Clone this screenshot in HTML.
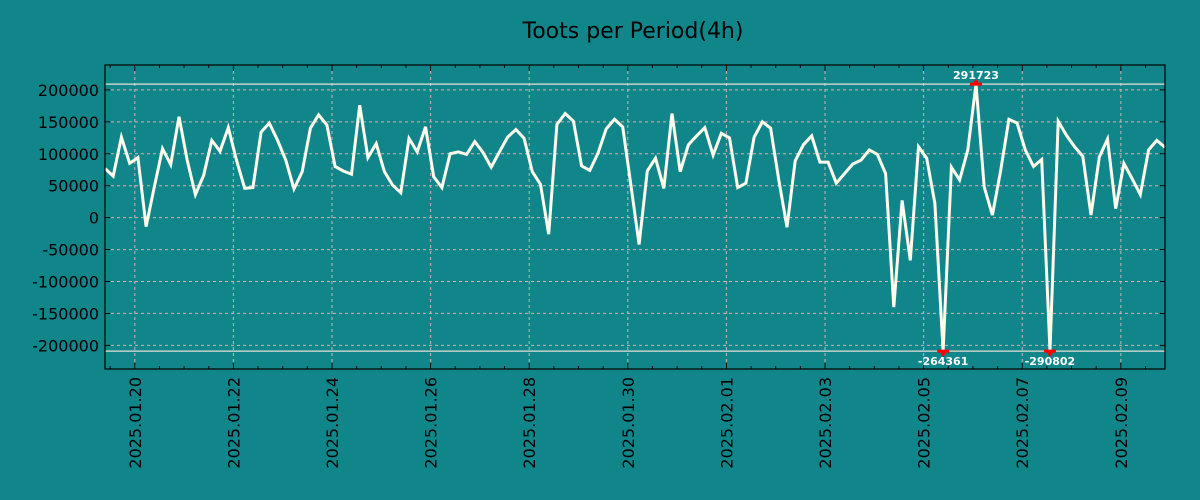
<!DOCTYPE html>
<html><head><meta charset="utf-8"><style>
body{margin:0;background:#11868A;}
svg{display:block;font-family:"DejaVu Sans","Liberation Sans",sans-serif;}
</style></head><body>
<svg id="chart" width="1200" height="500">
<rect width="1200" height="500" fill="#11868A"/>
<text x="633" y="38" font-size="22" text-anchor="middle" fill="#000">Toots per Period(4h)</text>
<g id="g"></g>
</svg>
<script>
const values = [77000,65000,126000,85000,94000,-14000,48000,108000,83000,158000,90000,36000,66000,121000,104000,141000,90000,46000,47000,134000,148000,121000,90000,45000,72000,140000,161000,145000,80000,73000,68000,176000,94000,116000,72000,51000,39000,124000,103000,142000,64000,47000,100000,103000,
99000,119000,102000,79000,103000,126000,138000,124000,72000,52000,-26000,146000,163000,151000,81000,74000,101000,139000,154000,142000,51000,-42000,73000,93000,46000,163000,72000,114000,128000,141000,98000,132000,125000,47000,54000,126000,150000,140000,59000,-15000,89000,114000,128000,
87000,87000,54000,69000,84000,90000,106000,99000,69000,-140000,27000,-67000,111000,93000,22000,-264361,79000,59000,106000,291723,48000,4000,74000,154000,148000,106000,80000,91000,-290802,151000,129000,111000,96000,4000,95000,123000,14000,85000,61000,36000,106000,121000,110000];
const yTicks = [200000,150000,100000,50000,0,-50000,-100000,-150000,-200000];
const xTickLabels = ["2025.01.20","2025.01.22","2025.01.24","2025.01.26","2025.01.28","2025.01.30","2025.02.01","2025.02.03","2025.02.05","2025.02.07","2025.02.09"];
const startHoursBeforeFirstTick = 14.5; // first sample relative to 2025.01.20 00:00
const periodHours = 4;
const clipLimit = 209000;

const NS="http://www.w3.org/2000/svg";
const g=document.getElementById('g');
const L=105,R=1165,T=65,B=369;
const yMin=-237000,yMax=239000;
const n=values.length;
const totalH=(n-1)*periodHours;
function xOfHour(h){return L+(h+startHoursBeforeFirstTick)/totalH*(R-L);}
function xOfIndex(i){return xOfHour(i*periodHours-startHoursBeforeFirstTick);}
function y(v){return B-(v-yMin)/(yMax-yMin)*(B-T);}
function mk(tag,attrs){const e=document.createElementNS(NS,tag);for(const k in attrs)e.setAttribute(k,attrs[k]);g.appendChild(e);return e;}

// y grid and ticks
yTicks.forEach(v=>{
  const yy=y(v);
  const gl=mk('line',{x1:L,x2:R,y1:yy,y2:yy,stroke:'#c8b8b0','stroke-width':1,'stroke-dasharray':'3,3'});
  
  
  mk('line',{x1:L,x2:L+5,y1:yy,y2:yy,stroke:'#000'});
  mk('line',{x1:R-5,x2:R,y1:yy,y2:yy,stroke:'#000'});
  const t=mk('text',{x:99,y:yy+6,'font-size':16,'text-anchor':'end',fill:'#000'});
  t.textContent=String(v);
  
  
});
// x grid, major & minor ticks
xTickLabels.forEach((lab,k)=>{
  const xx=xOfHour(k*48);
  const gl=mk('line',{x1:xx,x2:xx,y1:T,y2:B,stroke:'#c8b8b0','stroke-width':1,'stroke-dasharray':'3,3'});
  
  
  mk('line',{x1:xx,x2:xx,y1:B,y2:B-6,stroke:'#000'});
  mk('line',{x1:xx,x2:xx,y1:T,y2:T+6,stroke:'#000'});
  const t=mk('text',{x:0,y:0,'font-size':16,'text-anchor':'end',fill:'#000',transform:`translate(${xx+6},377) rotate(-90)`});
  t.textContent=lab;
  
  
});
for(let h=-12;h<=totalH;h+=12){
  const xx=xOfHour(h);
  if(xx<L||xx>R||h%48===0)continue;
  mk('line',{x1:xx,x2:xx,y1:B,y2:B-3,stroke:'#000'});
  mk('line',{x1:xx,x2:xx,y1:T,y2:T+3,stroke:'#000'});
}
// clip reference lines
[clipLimit,-clipLimit].forEach(v=>{
  const l=mk('line',{x1:L,x2:R,y1:y(v),y2:y(v),stroke:'#e8e0d8','stroke-width':1.3});
  
  
});
// series line
const pts=values.map((v,i)=>xOfIndex(i).toFixed(1)+','+y(Math.max(-clipLimit,Math.min(clipLimit,v))).toFixed(1)).join(' ');
const pl=mk('polyline',{points:pts,fill:'none',stroke:'#FFFCEC','stroke-width':3,'stroke-linejoin':'miter'});


// extreme markers
values.forEach((v,i)=>{
  if(Math.abs(v)<=clipLimit)return;
  const xx=xOfIndex(i), up=v>0, yy=y(up?clipLimit:-clipLimit);
  const tri=mk('polygon',{points:up?`${xx-4},${yy} ${xx+4},${yy} ${xx},${yy-5}`:`${xx-4},${yy} ${xx+4},${yy} ${xx},${yy+6}`,fill:'#f00'});
  
  
  mk('rect',{x:xx-6,y:yy-1.5,width:12,height:3,fill:'#f00'});
  const t=mk('text',{x:xx,y:up?yy-5:yy+14,'font-size':11,'font-weight':'bold','text-anchor':'middle',fill:'#fff'});
  t.textContent=String(v);
  
  
});
// frame
const fr=mk('rect',{x:L,y:T,width:R-L,height:B-T,fill:'none',stroke:'#000','stroke-width':1.2});


</script>
</body></html>
